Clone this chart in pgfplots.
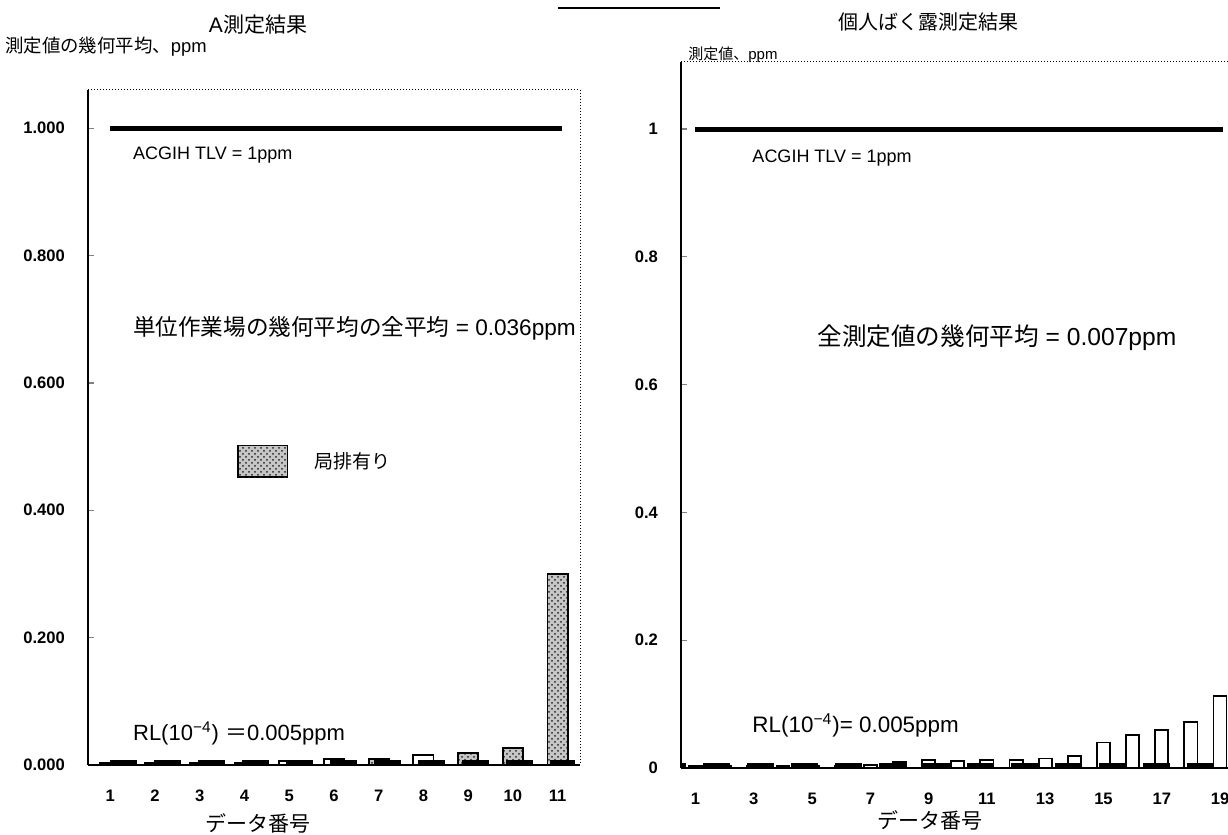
\documentclass[border=0pt]{standalone}
\usepackage{fontspec}
\setmainfont{Liberation Sans}
\newfontfamily\jp{Noto Sans CJK JP}
\usepackage{pgfplots}
\pgfplotsset{compat=1.18}
\usetikzlibrary{patterns}

\tikzset{note/.style={anchor=west, inner sep=0pt}}
\pgfplotsset{
  panel/.style={
    scale only axis, anchor=south west,
    ymin=0, xmin=0.5,
    axis x line*=bottom, axis y line*=left,
    axis line style={line width=1pt},
    tick align=inside, major tick length=3pt,
    xtick style={draw=none},
    ytick style={line width=0.6pt},
    ticklabel style={font=\fontsize{8.3}{10}\selectfont\bfseries},
    xticklabel style={yshift=-9pt},
    yticklabel style={xshift=-8pt},
    /pgf/number format/assume math mode=true,
    clip=false,
  },
  whitebar/.style={ybar, bar shift=0pt, bar width=0.45, draw=black, line width=0.9pt, fill=white},
  dotbar/.style={ybar, bar shift=0pt, bar width=0.45, draw=black, line width=0.9pt, fill=gray!45,
    postaction={pattern=crosshatch dots, pattern color=black!85}},
}

\begin{document}
\begin{tikzpicture}
\useasboundingbox (0,0) rectangle (614pt,417.5pt);

% titles and axis labels
\node[font=\fontsize{10.5}{13}\selectfont] at (129pt,405pt) {A{\jp 測定結果}};
\node[note, font=\fontsize{9.2}{11}\selectfont] at (2.5pt,394pt) {{\jp 測定値の幾何平均、}ppm};
\node[font=\fontsize{10}{12}\selectfont\jp] at (464pt,406.5pt) {個人ばく露測定結果};
\node[note, font=\fontsize{7.5}{9}\selectfont] at (344pt,390pt) {{\jp 測定値、}ppm};
\node[font=\fontsize{10.5}{12}\selectfont\jp] at (129pt,6pt) {データ番号};
\node[font=\fontsize{10.5}{12}\selectfont\jp] at (465pt,7.5pt) {データ番号};
\draw[line width=0.8pt] (279pt,413.5pt) -- (360pt,413.5pt);

% left panel: A measurement
\begin{axis}[panel,
  at={(44pt,35pt)}, width=246pt, height=337.5pt,
  xmax=11.5, ymax=1.06,
  xtick={1,...,11},
  ytick={0,0.2,0.4,0.6,0.8,1.0},
  yticklabel style={/pgf/number format/.cd, fixed, fixed zerofill, precision=3},
]
\addplot[whitebar] coordinates {
  (1,0.003) (2,0.003) (3,0.003) (4,0.003) (5,0.006) (6,0.010) (8,0.016)
};
\addplot[dotbar] coordinates {
  (7,0.010) (9,0.019) (10,0.027) (11,0.30)
};
\addplot[line width=2.5pt] coordinates {(1,1) (11.1,1)};
\addplot[line width=2.5pt, dash pattern=on 13.5pt off 8.5pt] coordinates {(1,0.004) (11.39,0.004)};
\draw[densely dotted, line width=0.5pt] (rel axis cs:0,1) -- (rel axis cs:1,1) -- (rel axis cs:1,0);
\node[note, font=\fontsize{9}{10}\selectfont] at (axis cs:1.5,0.958) {ACGIH TLV = 1ppm};
\node[note, font=\fontsize{11.3}{13}\selectfont] at (axis cs:1.5,0.686) {{\jp 単位作業場の幾何平均の全平均} = 0.036ppm};
\node[note, font=\fontsize{11}{13}\selectfont] at (axis cs:1.5,0.050) {RL(10\textsuperscript{−4}) {\jp ＝}0.005ppm};
\draw[line width=0.8pt, fill=gray!45, postaction={pattern=crosshatch dots, pattern color=black!85}]
  (axis cs:3.86,0.452) rectangle (axis cs:4.96,0.502);
\node[note, font=\fontsize{9.5}{11}\selectfont\jp] at (axis cs:5.55,0.477) {局排有り};
\end{axis}

% right panel: personal exposure
\begin{axis}[panel,
  at={(340.5pt,33.5pt)}, width=276.8pt, height=353pt,
  xmax=19.5, ymax=1.105,
  xtick={1,3,...,19},
  ytick={0,0.2,0.4,0.6,0.8,1},
]
\addplot[whitebar] coordinates {
  (1,0.003) (2,0.003) (3,0.003) (4,0.003) (5,0.003) (6,0.003) (7,0.005)
  (8,0.009) (9,0.012) (10,0.011) (11,0.0125) (12,0.0125) (13,0.015)
  (14,0.019) (15,0.040) (16,0.052) (17,0.060) (18,0.072) (19,0.113)
};
\addplot[line width=2.5pt] coordinates {(0.98,1) (19.1,1)};
\addplot[line width=2.5pt, dash pattern=on 13.5pt off 8.5pt, dash phase=11pt] coordinates {(0.5,0.004) (19.5,0.004)};
\draw[densely dotted, line width=0.5pt] (rel axis cs:0,1) -- (rel axis cs:1,1);
\node[note, font=\fontsize{9}{10}\selectfont] at (axis cs:2.94,0.955) {ACGIH TLV = 1ppm};
\node[note, font=\fontsize{12.3}{14}\selectfont] at (axis cs:5.17,0.674) {{\jp 全測定値の幾何平均} = 0.007ppm};
\node[note, font=\fontsize{11.2}{13}\selectfont] at (axis cs:2.94,0.067) {RL(10\textsuperscript{−4})= 0.005ppm};
\end{axis}
\end{tikzpicture}
\end{document}
